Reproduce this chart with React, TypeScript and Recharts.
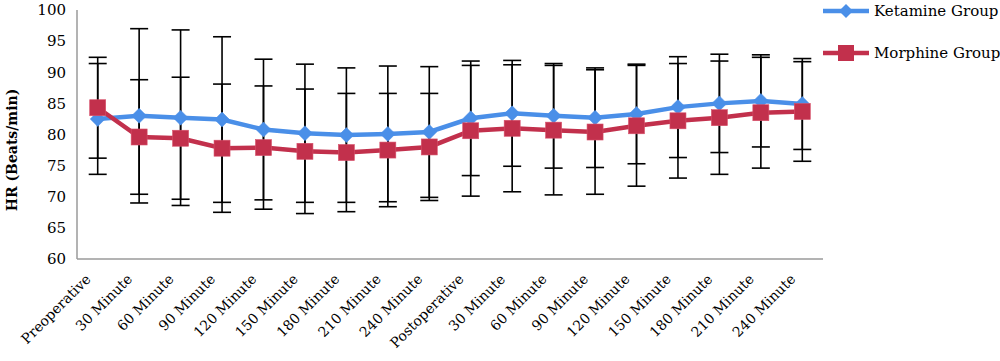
import React from 'react';
import { LineChart, Line, XAxis, YAxis, ErrorBar, Legend, Label } from 'recharts';

const categories = [
  'Preoperative', '30 Minute', '60 Minute', '90 Minute', '120 Minute', '150 Minute', '180 Minute', '210 Minute', '240 Minute',
  'Postoperative', '30 Minute', '60 Minute', '90 Minute', '120 Minute', '150 Minute', '180 Minute', '210 Minute', '240 Minute',
];
const ketamine = [82.5, 83.0, 82.7, 82.4, 80.8, 80.2, 79.9, 80.1, 80.4, 82.6, 83.4, 83.0, 82.7, 83.3, 84.4, 85.0, 85.4, 84.9];
const ketamineSD = [8.9, 14.0, 14.1, 13.3, 11.3, 11.1, 10.8, 10.9, 10.5, 9.2, 8.5, 8.4, 8.0, 8.0, 8.1, 7.9, 7.4, 7.3];
const morphine = [84.3, 79.6, 79.4, 77.8, 77.9, 77.3, 77.1, 77.5, 78.0, 80.6, 81.0, 80.7, 80.4, 81.4, 82.2, 82.7, 83.5, 83.7];
const morphineSD = [8.1, 9.2, 9.8, 10.3, 9.9, 10.0, 9.5, 9.1, 8.6, 10.5, 10.2, 10.4, 10.0, 9.7, 9.2, 9.1, 8.9, 8.0];
const yTicks = [60, 65, 70, 75, 80, 85, 90, 95, 100];
const seriesNames = ['Ketamine Group', 'Morphine Group'];

const BLUE = '#4A8FE8';
const RED = '#C2304C';
const FONT = 'DejaVu Serif';

const data = categories.map((c, i) => ({
  cat: c,
  ket: ketamine[i],
  ketSD: ketamineSD[i],
  mor: morphine[i],
  morSD: morphineSD[i],
}));

const Diamond = (props: any) => {
  const { cx, cy } = props;
  if (cx == null || cy == null) return null;
  const r = 7.5;
  return <path d={`M${cx},${cy - r}L${cx + r},${cy}L${cx},${cy + r}L${cx - r},${cy}Z`} fill={BLUE} stroke={BLUE} strokeWidth={0.5} />;
};

const Square = (props: any) => {
  const { cx, cy } = props;
  if (cx == null || cy == null) return null;
  const r = 8;
  return <rect x={cx - r} y={cy - r} width={2 * r} height={2 * r} fill={RED} stroke="#D8506A" strokeWidth={0.6} />;
};

const XTick = (props: any) => {
  const { x, y, payload } = props;
  const ax = x - 6;
  const ay = y + 13;
  return (
    <text x={ax} y={ay} transform={`rotate(-45 ${ax} ${ay})`} textAnchor="end" fontFamily={FONT} fontSize={14} fill="#000">
      {payload.value}
    </text>
  );
};

const LegendContent = () => (
  <div style={{ position: 'relative', width: 185, height: 70, fontFamily: FONT, fontSize: 15, color: '#000' }}>
    <div style={{ position: 'absolute', left: 0, top: 0, height: 22, display: 'flex', alignItems: 'center', whiteSpace: 'nowrap' }}>
      <svg width={48} height={22}>
        <line x1={1} y1={11} x2={47} y2={11} stroke={BLUE} strokeWidth={4.5} />
        <path d="M24,4L31,11L24,18L17,11Z" fill={BLUE} />
      </svg>
      <span style={{ marginLeft: 4 }}>{seriesNames[0]}</span>
    </div>
    <div style={{ position: 'absolute', left: 0, top: 42, height: 22, display: 'flex', alignItems: 'center', whiteSpace: 'nowrap' }}>
      <svg width={48} height={22}>
        <line x1={1} y1={11} x2={47} y2={11} stroke={RED} strokeWidth={4.5} />
        <rect x={16} y={3} width={16} height={16} fill={RED} />
      </svg>
      <span style={{ marginLeft: 4 }}>{seriesNames[1]}</span>
    </div>
  </div>
);

export default function App() {
  return (
    <div style={{ position: 'absolute', left: 0, top: 0, background: '#fff' }}>
      <LineChart width={1000} height={361} data={data} margin={{ top: 10, right: 177, bottom: 0, left: 0 }}>
        <XAxis
          dataKey="cat"
          height={102}
          interval={0}
          padding={{ left: 20.7, right: 20.7 }}
          tickLine={false}
          axisLine={{ stroke: '#9a9a9a', strokeWidth: 1.5 }}
          tick={<XTick />}
        />
        <YAxis
          width={77}
          domain={[60, 100]}
          ticks={yTicks}
          interval={0}
          tickLine={false}
          tickMargin={5}
          axisLine={{ stroke: '#9a9a9a', strokeWidth: 1.5 }}
          tick={{ fontFamily: FONT, fontSize: 15, fill: '#000' }}
        >
          <Label
            content={() => (
              <text x={17} y={150} transform="rotate(-90 17 150)" textAnchor="middle" fontFamily={FONT} fontWeight="bold" fontSize={14} fill="#000">
                HR (Beats/min)
              </text>
            )}
          />
        </YAxis>
        <Legend
          layout="vertical"
          align="center"
          verticalAlign="middle"
          wrapperStyle={{ top: 0, left: 822, width: 185, height: 70 }}
          content={<LegendContent />}
        />
        <Line
          type="linear"
          dataKey="ket"
          name={seriesNames[0]}
          stroke={BLUE}
          strokeWidth={4.5}
          dot={<Diamond />}
          activeDot={false}
          isAnimationActive={false}
        >
          <ErrorBar dataKey="ketSD" direction="y" width={9} stroke="#000" strokeWidth={1.6} />
        </Line>
        <Line
          type="linear"
          dataKey="mor"
          name={seriesNames[1]}
          stroke={RED}
          strokeWidth={4.5}
          dot={<Square />}
          activeDot={false}
          isAnimationActive={false}
        >
          <ErrorBar dataKey="morSD" direction="y" width={9} stroke="#000" strokeWidth={1.6} />
        </Line>
      </LineChart>
    </div>
  );
}
